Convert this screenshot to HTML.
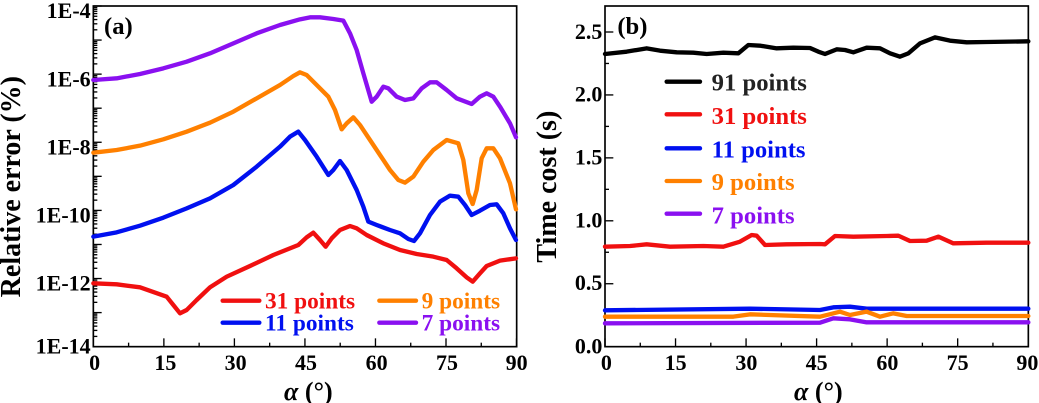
<!DOCTYPE html>
<html><head><meta charset="utf-8"><style>
html,body{margin:0;padding:0;background:#fff;width:1039px;height:403px;overflow:hidden}
svg{position:absolute;top:0;overflow:visible}
svg text{font-family:"Liberation Serif","DejaVu Serif",serif;font-weight:bold}
</style></head><body>
<svg id="a" style="left:0" width="520" height="403" viewBox="0 0 1560 1209" font-family="Liberation Serif, DejaVu Serif, serif" font-weight="bold">
<g id="at"></g>
<rect x="280" y="18" width="1270" height="1022" fill="none" stroke="#000" stroke-width="5"/>
<g fill="none" stroke-width="13" stroke-linejoin="round" stroke-linecap="round">
<polyline stroke="#8a10f0" points="280,240 350,235 420,222 490,205 560,185 630,160 700,130 770,100 840,75 900,58 930,52 960,52 1000,57 1030,62 1050,100 1070,150 1090,220 1115,305 1130,290 1150,260 1165,265 1190,290 1215,300 1240,295 1265,265 1290,247 1310,247 1340,270 1370,295 1415,312 1440,290 1460,280 1480,290 1500,320 1530,370 1548,412"/>
<polyline stroke="#ff8000" points="280,458 350,450 420,437 490,418 560,395 630,368 700,335 770,295 840,255 880,228 900,217 920,225 950,255 985,290 1005,330 1025,388 1040,370 1060,352 1080,375 1110,420 1140,465 1170,510 1195,540 1215,548 1240,530 1270,485 1300,450 1340,420 1375,430 1390,480 1405,580 1418,612 1430,570 1445,475 1460,445 1480,445 1500,475 1530,550 1548,628"/>
<polyline stroke="#0010f0" points="280,710 350,697 420,677 490,653 560,625 630,595 700,555 770,500 840,440 870,410 895,395 915,420 950,470 985,525 1000,510 1020,483 1040,510 1070,570 1090,620 1105,665 1130,675 1170,690 1200,700 1225,717 1242,723 1260,700 1290,645 1320,605 1350,587 1375,590 1395,615 1415,645 1440,632 1470,615 1490,613 1510,640 1530,685 1548,720"/>
<polyline stroke="#f01010" points="280,850 350,853 420,862 500,890 520,915 540,940 560,930 590,900 630,862 680,830 750,798 820,765 895,735 920,712 940,698 960,720 977,740 995,715 1020,690 1050,678 1070,685 1100,705 1150,730 1200,750 1250,762 1300,770 1340,780 1370,805 1400,832 1418,845 1440,820 1460,798 1500,782 1548,775"/>
<line x1="668" y1="902" x2="778" y2="902" stroke="#f01010"/>
<line x1="668" y1="968" x2="778" y2="968" stroke="#0010f0"/>
<line x1="1138" y1="902" x2="1248" y2="902" stroke="#ff8000"/>
<line x1="1138" y1="968" x2="1248" y2="968" stroke="#8a10f0"/>
</g>
<g font-size="70">
<text x="795" y="925" fill="#f01010">31 points</text>
<text x="795" y="992" fill="#0010f0">11 points</text>
<text x="1265" y="925" fill="#ff8000">9 points</text>
<text x="1265" y="992" fill="#8a10f0">7 points</text>
</g>
<text x="312" y="102" font-size="74">(a)</text>
<g font-size="66" text-anchor="end">
<text x="272" y="54">1E-4</text><text x="272" y="259">1E-6</text><text x="272" y="463">1E-8</text>
<text x="272" y="668">1E-10</text><text x="272" y="872">1E-12</text><text x="272" y="1060">1E-14</text>
</g>
<g font-size="66" text-anchor="middle">
<text x="284" y="1110">0</text><text x="496" y="1110">15</text><text x="707" y="1110">30</text><text x="918" y="1110">45</text>
<text x="1130" y="1110">60</text><text x="1341" y="1110">75</text><text x="1550" y="1110">90</text>
</g>
<text x="925" y="1200" font-size="78" text-anchor="middle"><tspan font-style="italic">α</tspan> (°)</text>
<text transform="translate(60,560) rotate(-90)" font-size="84" text-anchor="middle">Relative error (%)</text>
</svg>
<svg id="b" style="left:520px" width="519" height="403" viewBox="0 0 1557 1209" font-family="Liberation Serif, DejaVu Serif, serif" font-weight="bold">
<g id="bt"></g>
<rect x="255" y="18" width="1270" height="1022" fill="none" stroke="#000" stroke-width="5"/>
<g fill="none" stroke-width="13" stroke-linejoin="round" stroke-linecap="round">
<polyline stroke="#000" points="255,162 320,155 380,145 420,152 470,157 520,158 560,162 610,158 655,160 685,135 720,137 770,145 820,143 870,144 895,155 915,162 950,148 975,150 1000,157 1040,143 1080,145 1110,160 1140,170 1165,160 1200,130 1245,112 1290,122 1340,127 1400,126 1525,124"/>
<polyline stroke="#f01010" points="255,740 330,738 380,733 450,740 550,738 610,740 660,725 695,705 710,707 735,735 800,733 900,732 915,733 945,708 1000,710 1100,708 1135,707 1170,723 1220,722 1255,710 1300,730 1400,728 1525,728"/>
<polyline stroke="#0010f0" points="255,931 690,926 900,930 940,922 990,920 1040,926 1525,926"/>
<polyline stroke="#ff8000" points="255,950 640,950 690,943 900,950 960,935 990,945 1040,935 1080,950 1120,940 1160,948 1525,948"/>
<polyline stroke="#8a10f0" points="255,970 900,968 940,955 990,958 1040,967 1525,967"/>
<line x1="440" y1="245" x2="540" y2="245" stroke="#000"/>
<line x1="440" y1="343" x2="540" y2="343" stroke="#f01010"/>
<line x1="440" y1="445" x2="540" y2="445" stroke="#0010f0"/>
<line x1="440" y1="543" x2="540" y2="543" stroke="#ff8000"/>
<line x1="440" y1="641" x2="540" y2="641" stroke="#8a10f0"/>
</g>
<g font-size="74">
<text x="575" y="272" fill="#222">91 points</text>
<text x="575" y="372" fill="#f01010">31 points</text>
<text x="575" y="472" fill="#0010f0">11 points</text>
<text x="575" y="570" fill="#ff8000">9 points</text>
<text x="575" y="670" fill="#8a10f0">7 points</text>
</g>
<text x="292" y="102" font-size="74">(b)</text>
<g font-size="66" text-anchor="end">
<text x="247" y="117">2.5</text><text x="247" y="304">2.0</text><text x="247" y="493">1.5</text>
<text x="247" y="682">1.0</text><text x="247" y="870">0.5</text><text x="247" y="1060">0.0</text>
</g>
<g font-size="66" text-anchor="middle">
<text x="259" y="1110">0</text><text x="467" y="1110">15</text><text x="679" y="1110">30</text><text x="890" y="1110">45</text>
<text x="1102" y="1110">60</text><text x="1313" y="1110">75</text><text x="1522" y="1110">90</text>
</g>
<text x="895" y="1200" font-size="78" text-anchor="middle"><tspan font-style="italic">α</tspan> (°)</text>
<text transform="translate(108,560) rotate(-90)" font-size="84" text-anchor="middle">Time cost (s)</text>
</svg>
<script>
var ns="http://www.w3.org/2000/svg";
function L(g,x1,y1,x2,y2){var l=document.createElementNS(ns,"line");l.setAttribute("x1",x1);l.setAttribute("y1",y1);l.setAttribute("x2",x2);l.setAttribute("y2",y2);l.setAttribute("stroke","#000");l.setAttribute("stroke-width","4");g.appendChild(l);}
var ga=document.getElementById("at");
for(var d=0;d<10;d++){var y0=18+d*102.2;L(ga,280,y0,305,y0);
 for(var k=2;k<10;k++){var y=y0+102.2*(1-Math.log10(k));L(ga,280,y,292,y);}}
L(ga,280,1040,305,1040);
for(var i=0;i<=12;i++){var x=280+i*105.8;L(ga,x,1040,x,i%2?1028:1015);}
var gb=document.getElementById("bt");
for(var i=0;i<=10;i++){var y=1040-i*94.4;L(gb,255,y,i%2?267:280,y);}
for(var i=0;i<=12;i++){var x=255+i*105.8;L(gb,x,1040,x,i%2?1028:1015);}
</script>
</body></html>
